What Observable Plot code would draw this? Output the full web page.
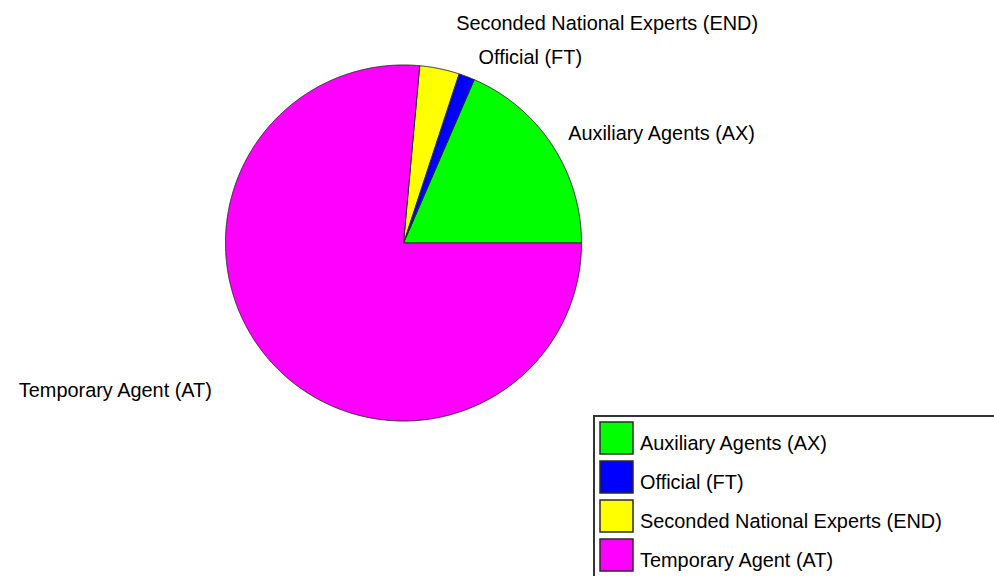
<!DOCTYPE html>
<html><head><meta charset="utf-8">
<script src="https://cdn.jsdelivr.net/npm/d3@7"></script>
<script src="https://cdn.jsdelivr.net/npm/@observablehq/plot@0.6"></script>
<style>
html,body{margin:0;padding:0;background:#fff;}
#wrap{position:relative;width:994px;height:576px;overflow:hidden;font-family:"Liberation Sans",Arial,sans-serif;}
#chart svg{display:block;}
#legend{position:absolute;left:593px;top:415px;width:430px;height:190px;border:2px solid #333;box-sizing:border-box;padding:5px 0 0 5px;background:#fff;}
#legend .lg-swatches{font-family:"Liberation Sans",Arial,sans-serif;font-size:19.9px;color:#000;margin:0;}
#legend .lg-swatch{padding-bottom:0;margin-bottom:7px;display:flex;align-items:center;}
#legend .lg-swatch > svg{margin-right:7px;}
#legend .lg-swatch rect{stroke:#2a2a2a;stroke-width:1.5px;}
#legend .lg-swatch-label{position:relative;top:5px;}
</style></head><body>
<div id="wrap"><div id="chart"></div><div id="legend"></div></div>
<script>
const categories = ["Auxiliary Agents (AX)", "Official (FT)", "Seconded National Experts (END)", "Temporary Agent (AT)"];
const shares = [18.5, 1.45, 3.6, 76.45];
const colors = ["#00ff00", "#0000ff", "#ffff00", "#ff00ff"];
const labelNudge = [[1, -2], [5.5, -2], [13, -28], [-47, 15.5]];

// angles: counterclockwise from 3 o'clock
const arcs = d3.pie().sort(null).startAngle(0).endAngle(2 * Math.PI)(shares);
const wedges = [];
const labels = [];
arcs.forEach((a, i) => {
  const cat = categories[i];
  const n = Math.max(2, Math.ceil((a.endAngle - a.startAngle) / (Math.PI / 720)) + 1);
  wedges.push({cat, x: 0, y: 0});
  for (let k = 0; k < n; k++) {
    const t = a.startAngle + (a.endAngle - a.startAngle) * k / (n - 1);
    wedges.push({cat, x: Math.cos(t), y: Math.sin(t)});
  }
  wedges.push({cat, x: 0, y: 0});
  const mid = (a.startAngle + a.endAngle) / 2;
  labels.push({label: cat, x: 1.1 * Math.cos(mid), y: 1.1 * Math.sin(mid), anchor: Math.cos(mid) >= 0 ? "start" : "end"});
});

const chart = Plot.plot({
  width: 994, height: 576,
  marginLeft: 225, marginRight: 413, marginTop: 64.5, marginBottom: 155.5,
  x: {domain: [-1, 1], axis: null},
  y: {domain: [-1, 1], axis: null},
  color: {domain: categories, range: colors},
  style: {fontFamily: '"Liberation Sans", Arial, sans-serif', fontSize: "19.9px", background: "transparent", overflow: "visible"},
  marks: [
    Plot.line(wedges, {x: "x", y: "y", z: "cat", fill: "cat", stroke: "#2a2a2a", strokeWidth: 1, strokeLinejoin: "round"}),
    ...labels.map((d, i) => Plot.text([d], {x: "x", y: "y", text: "label", textAnchor: d.anchor, dx: labelNudge[i][0], dy: labelNudge[i][1], fill: "black", fontSize: 19.9}))
  ]
});
document.getElementById("chart").appendChild(chart);

const legend = Plot.legend({
  color: {type: "ordinal", domain: categories, range: colors},
  legend: "swatches", columns: 1, swatchWidth: 33, swatchHeight: 32, className: "lg"
});
document.getElementById("legend").appendChild(legend);
</script>
</body></html>
